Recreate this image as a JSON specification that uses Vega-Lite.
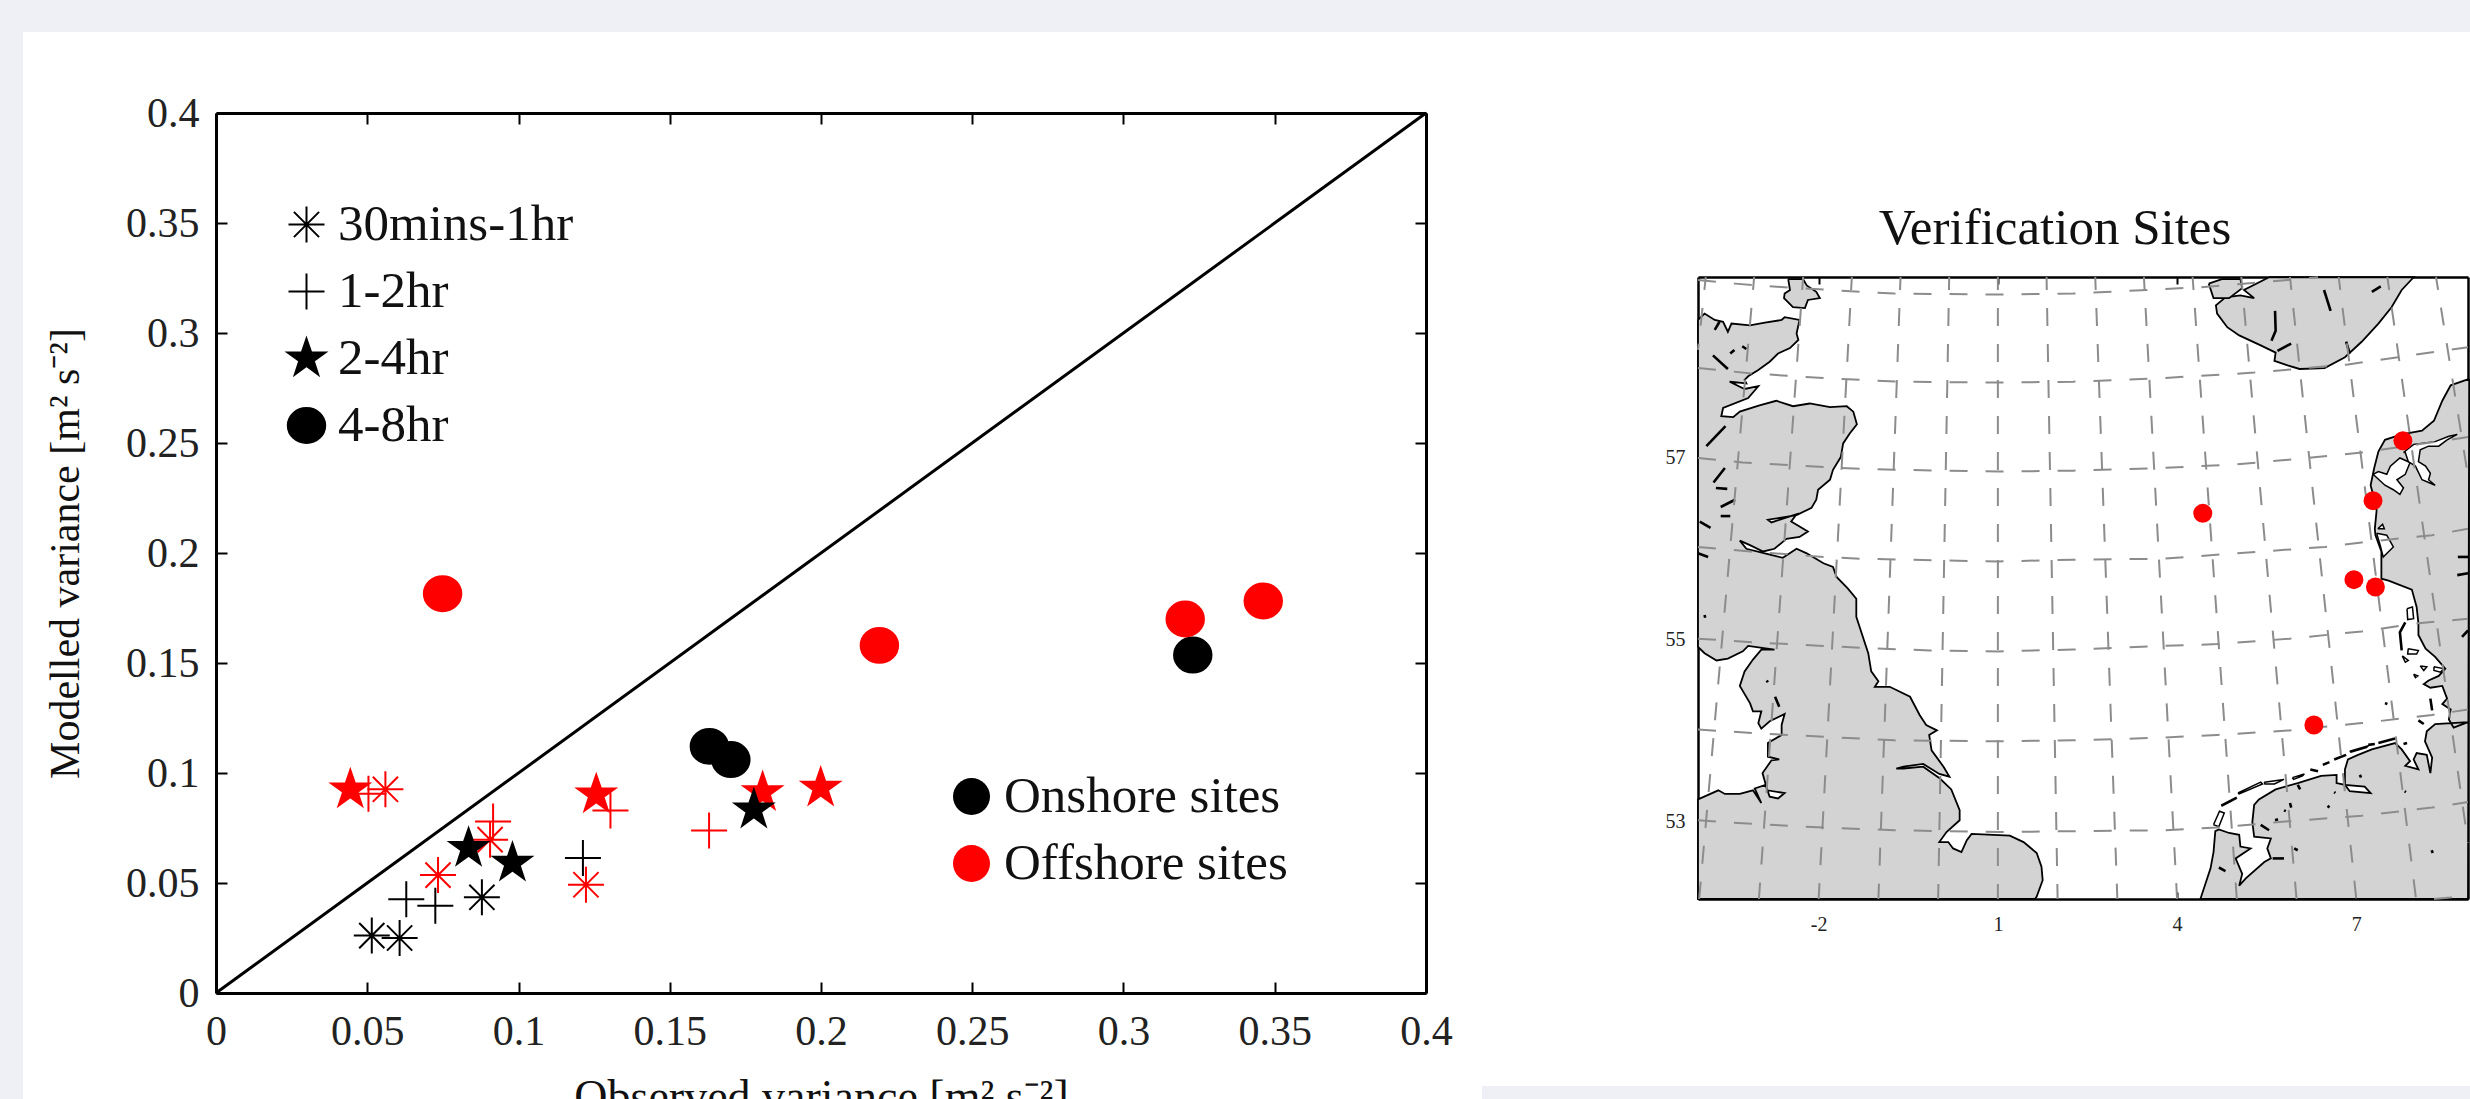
{"$schema":"https://vega.github.io/schema/vega-lite/v6.json","background":"#eff0f6","padding":{"left":23,"top":32,"right":0,"bottom":0},"spacing":0,"bounds":"flush","config":{"view":{"stroke":null},"font":"Liberation Serif","axis":{"grid":false,"domainColor":"black","tickColor":"black","labelColor":"#222222","titleColor":"#111111","labelFont":"Liberation Serif","titleFont":"Liberation Serif","titleFontWeight":"normal","labelOverlap":false,"labelFlush":false},"legend":{"labelFont":"Liberation Serif","labelColor":"#111111","padding":0,"labelLimit":600}},
"datasets":{
"scatter":[
{"obs":0.0734,"mod":0.0536,"duration":"30mins-1hr","site":"Offshore sites"},{"obs":0.0906,"mod":0.0697,"duration":"30mins-1hr","site":"Offshore sites"},{"obs":0.1223,"mod":0.0492,"duration":"30mins-1hr","site":"Offshore sites"},{"obs":0.056,"mod":0.0926,"duration":"30mins-1hr","site":"Offshore sites"},
{"obs":0.0504,"mod":0.0906,"duration":"1-2hr","site":"Offshore sites"},{"obs":0.0916,"mod":0.078,"duration":"1-2hr","site":"Offshore sites"},{"obs":0.1304,"mod":0.083,"duration":"1-2hr","site":"Offshore sites"},{"obs":0.163,"mod":0.0739,"duration":"1-2hr","site":"Offshore sites"},
{"obs":0.0444,"mod":0.0924,"duration":"2-4hr","site":"Offshore sites"},{"obs":0.1257,"mod":0.0902,"duration":"2-4hr","site":"Offshore sites"},{"obs":0.1807,"mod":0.0912,"duration":"2-4hr","site":"Offshore sites"},{"obs":0.1999,"mod":0.0932,"duration":"2-4hr","site":"Offshore sites"},
{"obs":0.0515,"mod":0.0261,"duration":"30mins-1hr","site":"Onshore sites"},{"obs":0.0607,"mod":0.025,"duration":"30mins-1hr","site":"Onshore sites"},{"obs":0.0879,"mod":0.0435,"duration":"30mins-1hr","site":"Onshore sites"},
{"obs":0.0629,"mod":0.0426,"duration":"1-2hr","site":"Onshore sites"},{"obs":0.0725,"mod":0.0397,"duration":"1-2hr","site":"Onshore sites"},{"obs":0.1213,"mod":0.0614,"duration":"1-2hr","site":"Onshore sites"},
{"obs":0.0835,"mod":0.0659,"duration":"2-4hr","site":"Onshore sites"},{"obs":0.098,"mod":0.0591,"duration":"2-4hr","site":"Onshore sites"},{"obs":0.1778,"mod":0.0833,"duration":"2-4hr","site":"Onshore sites"},
{"obs":0.1631,"mod":0.1121,"duration":"4-8hr","site":"Onshore sites"},{"obs":0.1702,"mod":0.1061,"duration":"4-8hr","site":"Onshore sites"},{"obs":0.3229,"mod":0.1536,"duration":"4-8hr","site":"Onshore sites"},
{"obs":0.0749,"mod":0.1815,"duration":"4-8hr","site":"Offshore sites"},{"obs":0.2193,"mod":0.158,"duration":"4-8hr","site":"Offshore sites"},{"obs":0.3204,"mod":0.17,"duration":"4-8hr","site":"Offshore sites"},{"obs":0.3462,"mod":0.1782,"duration":"4-8hr","site":"Offshore sites"}],
"diagonal":[{"obs":0,"mod":0},{"obs":0.4,"mod":0.4}],
"sites":[{"lon":4.43,"lat":56.39},{"lon":7.78,"lat":57.19},{"lon":7.28,"lat":56.53},{"lon":6.96,"lat":55.66},{"lon":7.32,"lat":55.58},{"lon":6.29,"lat":54.06}],
"land":[
{"p":"GB","lon":-4.02,"lat":58.52},{"p":"GB","lon":-3.91,"lat":58.59},{"p":"GB","lon":-3.74,"lat":58.52},{"p":"GB","lon":-3.6,"lat":58.5},{"p":"GB","lon":-3.52,"lat":58.39},{"p":"GB","lon":-3.46,"lat":58.48},{"p":"GB","lon":-3.15,"lat":58.46},{"p":"GB","lon":-2.9,"lat":58.49},{"p":"GB","lon":-2.62,"lat":58.52},{"p":"GB","lon":-2.57,"lat":58.55},{"p":"GB","lon":-2.32,"lat":58.52},{"p":"GB","lon":-2.37,"lat":58.37},{"p":"GB","lon":-2.34,"lat":58.3},{"p":"GB","lon":-2.48,"lat":58.21},{"p":"GB","lon":-2.68,"lat":58.15},{"p":"GB","lon":-2.82,"lat":58.06},{"p":"GB","lon":-3.01,"lat":57.97},{"p":"GB","lon":-3.18,"lat":57.9},{"p":"GB","lon":-3.24,"lat":57.86},{"p":"GB","lon":-3.21,"lat":57.82},{"p":"GB","lon":-3.49,"lat":57.84},{"p":"GB","lon":-3.24,"lat":57.76},{"p":"GB","lon":-3.01,"lat":57.79},{"p":"GB","lon":-3.18,"lat":57.66},{"p":"GB","lon":-3.6,"lat":57.55},{"p":"GB","lon":-3.63,"lat":57.46},{"p":"GB","lon":-3.43,"lat":57.45},{"p":"GB","lon":-3.32,"lat":57.51},{"p":"GB","lon":-2.99,"lat":57.58},{"p":"GB","lon":-2.71,"lat":57.63},{"p":"GB","lon":-2.43,"lat":57.57},{"p":"GB","lon":-2.15,"lat":57.6},{"p":"GB","lon":-1.81,"lat":57.56},{"p":"GB","lon":-1.53,"lat":57.57},{"p":"GB","lon":-1.42,"lat":57.51},{"p":"GB","lon":-1.36,"lat":57.37},{"p":"GB","lon":-1.48,"lat":57.27},{"p":"GB","lon":-1.59,"lat":57.16},{"p":"GB","lon":-1.63,"lat":57.01},{"p":"GB","lon":-1.76,"lat":56.87},{"p":"GB","lon":-1.81,"lat":56.76},{"p":"GB","lon":-2.01,"lat":56.65},{"p":"GB","lon":-2.04,"lat":56.54},{"p":"GB","lon":-2.12,"lat":56.45},{"p":"GB","lon":-2.37,"lat":56.37},{"p":"GB","lon":-2.65,"lat":56.34},{"p":"GB","lon":-2.85,"lat":56.32},{"p":"GB","lon":-2.79,"lat":56.29},{"p":"GB","lon":-2.37,"lat":56.38},{"p":"GB","lon":-2.46,"lat":56.3},{"p":"GB","lon":-2.18,"lat":56.19},{"p":"GB","lon":-2.32,"lat":56.13},{"p":"GB","lon":-2.54,"lat":56.11},{"p":"GB","lon":-2.74,"lat":56},{"p":"GB","lon":-2.93,"lat":55.97},{"p":"GB","lon":-3.15,"lat":56.04},{"p":"GB","lon":-3.32,"lat":56.09},{"p":"GB","lon":-3.21,"lat":56},{"p":"GB","lon":-2.85,"lat":55.94},{"p":"GB","lon":-2.6,"lat":55.9},{"p":"GB","lon":-2.37,"lat":56},{"p":"GB","lon":-2.2,"lat":55.95},{"p":"GB","lon":-1.92,"lat":55.84},{"p":"GB","lon":-1.76,"lat":55.8},{"p":"GB","lon":-1.7,"lat":55.69},{"p":"GB","lon":-1.51,"lat":55.56},{"p":"GB","lon":-1.37,"lat":55.45},{"p":"GB","lon":-1.37,"lat":55.25},{"p":"GB","lon":-1.28,"lat":55.07},{"p":"GB","lon":-1.17,"lat":54.85},{"p":"GB","lon":-1.12,"lat":54.65},{"p":"GB","lon":-1,"lat":54.54},{"p":"GB","lon":-1.06,"lat":54.48},{"p":"GB","lon":-0.81,"lat":54.48},{"p":"GB","lon":-0.47,"lat":54.37},{"p":"GB","lon":-0.31,"lat":54.17},{"p":"GB","lon":-0.2,"lat":54.06},{"p":"GB","lon":-0.02,"lat":54},{"p":"GB","lon":-0.15,"lat":53.95},{"p":"GB","lon":-0.11,"lat":53.78},{"p":"GB","lon":0.09,"lat":53.6},{"p":"GB","lon":0.19,"lat":53.49},{"p":"GB","lon":0.02,"lat":53.52},{"p":"GB","lon":-0.25,"lat":53.63},{"p":"GB","lon":-0.58,"lat":53.6},{"p":"GB","lon":-0.7,"lat":53.58},{"p":"GB","lon":-0.58,"lat":53.58},{"p":"GB","lon":-0.25,"lat":53.6},{"p":"GB","lon":0.03,"lat":53.47},{"p":"GB","lon":0.22,"lat":53.35},{"p":"GB","lon":0.36,"lat":53.12},{"p":"GB","lon":0.36,"lat":53.01},{"p":"GB","lon":0.14,"lat":52.88},{"p":"GB","lon":0.02,"lat":52.77},{"p":"GB","lon":0.17,"lat":52.77},{"p":"GB","lon":0.25,"lat":52.7},{"p":"GB","lon":0.39,"lat":52.66},{"p":"GB","lon":0.48,"lat":52.79},{"p":"GB","lon":0.56,"lat":52.86},{"p":"GB","lon":1.2,"lat":52.84},{"p":"GB","lon":1.43,"lat":52.77},{"p":"GB","lon":1.65,"lat":52.65},{"p":"GB","lon":1.73,"lat":52.5},{"p":"GB","lon":1.75,"lat":52.35},{"p":"GB","lon":1.65,"lat":52.17},{"p":"GB","lon":1.62,"lat":52.143},{"p":"GB","lon":-4.02,"lat":52.143},{"p":"GB","lon":-4.02,"lat":53.24},{"p":"GB","lon":-3.68,"lat":53.34},{"p":"GB","lon":-3.57,"lat":53.3},{"p":"GB","lon":-3.32,"lat":53.3},{"p":"GB","lon":-3.1,"lat":53.34},{"p":"GB","lon":-2.96,"lat":53.2},{"p":"GB","lon":-3.07,"lat":53.36},{"p":"GB","lon":-2.89,"lat":53.4},{"p":"GB","lon":-2.82,"lat":53.27},{"p":"GB","lon":-2.68,"lat":53.25},{"p":"GB","lon":-2.57,"lat":53.31},{"p":"GB","lon":-2.86,"lat":53.34},{"p":"GB","lon":-2.94,"lat":53.53},{"p":"GB","lon":-2.79,"lat":53.67},{"p":"GB","lon":-2.66,"lat":53.68},{"p":"GB","lon":-2.85,"lat":53.71},{"p":"GB","lon":-2.85,"lat":53.86},{"p":"GB","lon":-2.62,"lat":53.95},{"p":"GB","lon":-2.62,"lat":54.06},{"p":"GB","lon":-2.57,"lat":54.18},{"p":"GB","lon":-2.82,"lat":54.1},{"p":"GB","lon":-2.96,"lat":54.02},{"p":"GB","lon":-3.01,"lat":54.08},{"p":"GB","lon":-2.96,"lat":54.21},{"p":"GB","lon":-3.1,"lat":54.21},{"p":"GB","lon":-3.15,"lat":54.3},{"p":"GB","lon":-3.32,"lat":54.49},{"p":"GB","lon":-3.24,"lat":54.65},{"p":"GB","lon":-3.1,"lat":54.78},{"p":"GB","lon":-2.96,"lat":54.89},{"p":"GB","lon":-2.74,"lat":54.89},{"p":"GB","lon":-3.18,"lat":54.93},{"p":"GB","lon":-3.27,"lat":54.87},{"p":"GB","lon":-3.52,"lat":54.79},{"p":"GB","lon":-3.71,"lat":54.77},{"p":"GB","lon":-3.91,"lat":54.85},{"p":"GB","lon":-4.02,"lat":54.92},{"p":"GB","lon":-4.02,"lat":58.52},
{"p":"Orkney","lon":-2.51,"lat":58.97},{"p":"Orkney","lon":-2.26,"lat":58.97},{"p":"Orkney","lon":-2.2,"lat":58.9},{"p":"Orkney","lon":-2.04,"lat":58.83},{"p":"Orkney","lon":-1.98,"lat":58.76},{"p":"Orkney","lon":-2.18,"lat":58.74},{"p":"Orkney","lon":-2.23,"lat":58.65},{"p":"Orkney","lon":-2.43,"lat":58.66},{"p":"Orkney","lon":-2.58,"lat":58.76},{"p":"Orkney","lon":-2.57,"lat":58.81},{"p":"Orkney","lon":-2.48,"lat":58.85},{"p":"Orkney","lon":-2.51,"lat":58.97},
{"p":"Norway","lon":5.54,"lat":58.99},{"p":"Norway","lon":7.96,"lat":58.99},{"p":"Norway","lon":7.76,"lat":58.85},{"p":"Norway","lon":7.59,"lat":58.66},{"p":"Norway","lon":7.37,"lat":58.48},{"p":"Norway","lon":7.09,"lat":58.28},{"p":"Norway","lon":6.81,"lat":58.11},{"p":"Norway","lon":6.47,"lat":57.99},{"p":"Norway","lon":6.05,"lat":57.98},{"p":"Norway","lon":5.85,"lat":58.02},{"p":"Norway","lon":5.63,"lat":58.07},{"p":"Norway","lon":5.65,"lat":58.16},{"p":"Norway","lon":5.4,"lat":58.24},{"p":"Norway","lon":5.04,"lat":58.35},{"p":"Norway","lon":4.84,"lat":58.44},{"p":"Norway","lon":4.67,"lat":58.59},{"p":"Norway","lon":4.65,"lat":58.68},{"p":"Norway","lon":4.81,"lat":58.77},{"p":"Norway","lon":5.06,"lat":58.79},{"p":"Norway","lon":5.29,"lat":58.76},{"p":"Norway","lon":5.12,"lat":58.85},{"p":"Norway","lon":5.54,"lat":58.99},
{"p":"NorIs","lon":4.53,"lat":58.92},{"p":"NorIs","lon":4.75,"lat":58.97},{"p":"NorIs","lon":5.06,"lat":58.97},{"p":"NorIs","lon":5.09,"lat":58.87},{"p":"NorIs","lon":4.87,"lat":58.76},{"p":"NorIs","lon":4.61,"lat":58.76},{"p":"NorIs","lon":4.53,"lat":58.92},
{"p":"East","lon":8.89,"lat":57.87},{"p":"East","lon":8.58,"lat":57.8},{"p":"East","lon":8.44,"lat":57.63},{"p":"East","lon":8.3,"lat":57.41},{"p":"East","lon":8.1,"lat":57.3},{"p":"East","lon":7.76,"lat":57.26},{"p":"East","lon":7.48,"lat":57.2},{"p":"East","lon":7.37,"lat":57.07},{"p":"East","lon":7.3,"lat":56.89},{"p":"East","lon":7.24,"lat":56.7},{"p":"East","lon":7.31,"lat":56.52},{"p":"East","lon":7.34,"lat":56.42},{"p":"East","lon":7.31,"lat":56.22},{"p":"East","lon":7.32,"lat":56.15},{"p":"East","lon":7.42,"lat":55.97},{"p":"East","lon":7.42,"lat":55.67},{"p":"East","lon":7.54,"lat":55.65},{"p":"East","lon":7.93,"lat":55.55},{"p":"East","lon":8.01,"lat":55.36},{"p":"East","lon":8.04,"lat":55.18},{"p":"East","lon":8.04,"lat":55.05},{"p":"East","lon":8.16,"lat":54.9},{"p":"East","lon":8.32,"lat":54.81},{"p":"East","lon":8.49,"lat":54.68},{"p":"East","lon":8.38,"lat":54.6},{"p":"East","lon":8.21,"lat":54.55},{"p":"East","lon":8.13,"lat":54.51},{"p":"East","lon":8.24,"lat":54.47},{"p":"East","lon":8.44,"lat":54.49},{"p":"East","lon":8.52,"lat":54.35},{"p":"East","lon":8.44,"lat":54.29},{"p":"East","lon":8.58,"lat":54.23},{"p":"East","lon":8.55,"lat":54.12},{"p":"East","lon":8.63,"lat":54.03},{"p":"East","lon":8.87,"lat":54.09},{"p":"East","lon":8.32,"lat":54.07},{"p":"East","lon":8.18,"lat":53.99},{"p":"East","lon":8.15,"lat":53.88},{"p":"East","lon":8.27,"lat":53.7},{"p":"East","lon":8.24,"lat":53.53},{"p":"East","lon":8.18,"lat":53.73},{"p":"East","lon":8.01,"lat":53.75},{"p":"East","lon":7.96,"lat":53.68},{"p":"East","lon":8.04,"lat":53.57},{"p":"East","lon":7.82,"lat":53.61},{"p":"East","lon":7.9,"lat":53.66},{"p":"East","lon":7.76,"lat":53.79},{"p":"East","lon":7.65,"lat":53.86},{"p":"East","lon":7.26,"lat":53.79},{"p":"East","lon":7.03,"lat":53.73},{"p":"East","lon":6.86,"lat":53.68},{"p":"East","lon":6.81,"lat":53.57},{"p":"East","lon":6.81,"lat":53.4},{"p":"East","lon":7.14,"lat":53.38},{"p":"East","lon":7.24,"lat":53.31},{"p":"East","lon":6.89,"lat":53.33},{"p":"East","lon":6.81,"lat":53.4},{"p":"East","lon":6.67,"lat":53.42},{"p":"East","lon":6.67,"lat":53.51},{"p":"East","lon":6.41,"lat":53.5},{"p":"East","lon":6.02,"lat":53.42},{"p":"East","lon":5.65,"lat":53.35},{"p":"East","lon":5.37,"lat":53.24},{"p":"East","lon":5.29,"lat":53.18},{"p":"East","lon":5.26,"lat":52.99},{"p":"East","lon":5.29,"lat":52.83},{"p":"East","lon":5.57,"lat":52.81},{"p":"East","lon":5.51,"lat":52.7},{"p":"East","lon":5.57,"lat":52.59},{"p":"East","lon":5.46,"lat":52.55},{"p":"East","lon":5.15,"lat":52.37},{"p":"East","lon":5.04,"lat":52.29},{"p":"East","lon":5.09,"lat":52.42},{"p":"East","lon":4.98,"lat":52.59},{"p":"East","lon":5.23,"lat":52.7},{"p":"East","lon":5.06,"lat":52.72},{"p":"East","lon":5.04,"lat":52.85},{"p":"East","lon":4.87,"lat":52.87},{"p":"East","lon":4.7,"lat":52.91},{"p":"East","lon":4.64,"lat":52.89},{"p":"East","lon":4.61,"lat":52.66},{"p":"East","lon":4.56,"lat":52.48},{"p":"East","lon":4.39,"lat":52.143},{"p":"East","lon":8.87,"lat":52.143},{"p":"East","lon":8.89,"lat":57.87}],
"holes":[
{"p":"L1","lon":7.28,"lat":56.82},{"p":"L1","lon":7.48,"lat":56.7},{"p":"L1","lon":7.62,"lat":56.65},{"p":"L1","lon":7.73,"lat":56.6},{"p":"L1","lon":7.79,"lat":56.67},{"p":"L1","lon":7.68,"lat":56.76},{"p":"L1","lon":7.82,"lat":56.82},{"p":"L1","lon":7.9,"lat":56.95},{"p":"L1","lon":7.73,"lat":57},{"p":"L1","lon":7.57,"lat":56.91},{"p":"L1","lon":7.51,"lat":56.82},{"p":"L1","lon":7.37,"lat":56.85},{"p":"L1","lon":7.28,"lat":56.82},
{"p":"L2","lon":7.79,"lat":57.06},{"p":"L2","lon":7.96,"lat":57.15},{"p":"L2","lon":8.32,"lat":57.18},{"p":"L2","lon":8.55,"lat":57.24},{"p":"L2","lon":8.69,"lat":57.26},{"p":"L2","lon":8.52,"lat":57.2},{"p":"L2","lon":8.38,"lat":57.13},{"p":"L2","lon":8.21,"lat":57.13},{"p":"L2","lon":8.07,"lat":57.09},{"p":"L2","lon":8.04,"lat":56.96},{"p":"L2","lon":8.16,"lat":56.91},{"p":"L2","lon":8.24,"lat":56.83},{"p":"L2","lon":8.21,"lat":56.76},{"p":"L2","lon":8.32,"lat":56.7},{"p":"L2","lon":8.1,"lat":56.76},{"p":"L2","lon":7.99,"lat":56.91},{"p":"L2","lon":7.87,"lat":56.96},{"p":"L2","lon":7.82,"lat":57.06},{"p":"L2","lon":7.79,"lat":57.06},
{"p":"R","lon":7.34,"lat":56.17},{"p":"R","lon":7.51,"lat":56.15},{"p":"R","lon":7.62,"lat":56.02},{"p":"R","lon":7.45,"lat":55.91},{"p":"R","lon":7.4,"lat":56.04},{"p":"R","lon":7.34,"lat":56.17},
{"p":"R2","lon":7.36,"lat":56.22},{"p":"R2","lon":7.44,"lat":56.27},{"p":"R2","lon":7.47,"lat":56.22},{"p":"R2","lon":7.36,"lat":56.22},
{"p":"I1","lon":7.85,"lat":55.34},{"p":"I1","lon":7.94,"lat":55.36},{"p":"I1","lon":7.96,"lat":55.23},{"p":"I1","lon":7.86,"lat":55.22},{"p":"I1","lon":7.85,"lat":55.34},
{"p":"I3","lon":7.87,"lat":54.9},{"p":"I3","lon":8.04,"lat":54.88},{"p":"I3","lon":8.01,"lat":54.84},{"p":"I3","lon":7.86,"lat":54.84},{"p":"I3","lon":7.87,"lat":54.9},
{"p":"I4","lon":7.77,"lat":54.82},{"p":"I4","lon":7.87,"lat":54.77},{"p":"I4","lon":7.82,"lat":54.75},{"p":"I4","lon":7.77,"lat":54.82},
{"p":"I5","lon":8.3,"lat":54.7},{"p":"I5","lon":8.46,"lat":54.68},{"p":"I5","lon":8.41,"lat":54.64},{"p":"I5","lon":8.3,"lat":54.66},{"p":"I5","lon":8.3,"lat":54.7},
{"p":"I6","lon":8.07,"lat":54.71},{"p":"I6","lon":8.18,"lat":54.7},{"p":"I6","lon":8.13,"lat":54.66},{"p":"I6","lon":8.07,"lat":54.71},
{"p":"I7","lon":7.96,"lat":54.62},{"p":"I7","lon":8.03,"lat":54.6},{"p":"I7","lon":7.99,"lat":54.58},{"p":"I7","lon":7.96,"lat":54.62},
{"p":"F2","lon":5.02,"lat":53.31},{"p":"F2","lon":5.4,"lat":53.43},{"p":"F2","lon":5.43,"lat":53.41},{"p":"F2","lon":5.04,"lat":53.3},{"p":"F2","lon":5.02,"lat":53.31},
{"p":"F3","lon":5.46,"lat":53.43},{"p":"F3","lon":5.79,"lat":53.46},{"p":"F3","lon":5.63,"lat":53.41},{"p":"F3","lon":5.47,"lat":53.41},{"p":"F3","lon":5.46,"lat":53.43},
{"p":"F4","lon":5.93,"lat":53.48},{"p":"F4","lon":6.13,"lat":53.52},{"p":"F4","lon":6.1,"lat":53.5},{"p":"F4","lon":5.95,"lat":53.46},{"p":"F4","lon":5.93,"lat":53.48},
{"p":"F8","lon":6.89,"lat":53.77},{"p":"F8","lon":7.2,"lat":53.83},{"p":"F8","lon":7.17,"lat":53.81},{"p":"F8","lon":6.91,"lat":53.76},{"p":"F8","lon":6.89,"lat":53.77},
{"p":"Texel","lon":4.61,"lat":52.96},{"p":"Texel","lon":4.71,"lat":53.11},{"p":"Texel","lon":4.79,"lat":53.09},{"p":"Texel","lon":4.7,"lat":52.94},{"p":"Texel","lon":4.61,"lat":52.96}],
"strokes":[
{"p":"a","lon":-3.77,"lat":58.13},{"p":"a","lon":-3.52,"lat":57.98},{"p":"b","lon":-3.88,"lat":57.13},{"p":"b","lon":-3.56,"lat":57.35},{"p":"c","lon":-3.76,"lat":56.73},{"p":"c","lon":-3.57,"lat":56.89},{"p":"d","lon":-3.72,"lat":56.67},{"p":"d","lon":-3.53,"lat":56.66},{"p":"e","lon":-3.64,"lat":56.46},{"p":"e","lon":-3.4,"lat":56.54},{"p":"f","lon":-3.64,"lat":56.36},{"p":"f","lon":-3.48,"lat":56.36},{"p":"g","lon":-3.48,"lat":58.15},{"p":"g","lon":-3.41,"lat":58.19},{"p":"h","lon":-3.28,"lat":58.23},{"p":"h","lon":-3.21,"lat":58.2},{"p":"i","lon":-3.99,"lat":56.3},{"p":"i","lon":-3.81,"lat":56.23},{"p":"j","lon":-4.02,"lat":55.95},{"p":"j","lon":-3.85,"lat":55.91},{"p":"k","lon":-3.74,"lat":58.41},{"p":"k","lon":-3.66,"lat":58.5},{"p":"l","lon":-2.73,"lat":54.37},{"p":"l","lon":-2.66,"lat":54.26},{"p":"m","lon":-2.87,"lat":54.55},{"p":"m","lon":-2.85,"lat":54.53},{"p":"n","lon":-3.91,"lat":55.27},{"p":"n","lon":-3.9,"lat":55.24},
{"p":"o","lon":5.64,"lat":58.62},{"p":"o","lon":5.65,"lat":58.4},{"p":"o","lon":5.58,"lat":58.29},{"p":"q","lon":6.46,"lat":58.85},{"p":"q","lon":6.57,"lat":58.62},{"p":"r","lon":7.26,"lat":58.83},{"p":"r","lon":7.41,"lat":58.89},{"p":"s","lon":6.83,"lat":58.28},{"p":"s","lon":6.89,"lat":58.15},{"p":"t","lon":5.68,"lat":58.18},{"p":"t","lon":5.91,"lat":58.26},
{"p":"I2","lon":7.82,"lat":55.19},{"p":"I2","lon":7.73,"lat":55.08},{"p":"I2","lon":7.76,"lat":54.88},{"p":"I9","lon":8.24,"lat":54.35},{"p":"I9","lon":8.27,"lat":54.22},{"p":"u","lon":7.48,"lat":54.3},{"p":"u","lon":7.52,"lat":54.29},{"p":"v","lon":8.04,"lat":54.11},{"p":"v","lon":8.13,"lat":54.07},{"p":"w","lon":7.85,"lat":53.86},{"p":"w","lon":7.79,"lat":53.85},
{"p":"F1","lon":4.74,"lat":53.17},{"p":"F1","lon":5,"lat":53.26},{"p":"F5","lon":6.23,"lat":53.57},{"p":"F5","lon":6.36,"lat":53.55},{"p":"F6","lon":6.44,"lat":53.62},{"p":"F6","lon":6.55,"lat":53.65},{"p":"F7","lon":6.63,"lat":53.68},{"p":"F7","lon":6.83,"lat":53.73},{"p":"F9","lon":7.2,"lat":53.84},{"p":"F9","lon":7.31,"lat":53.85},{"p":"F10","lon":7.37,"lat":53.86},{"p":"F10","lon":7.65,"lat":53.91},
{"p":"x1","lon":5.4,"lat":52.96},{"p":"x1","lon":5.54,"lat":52.9},{"p":"x2","lon":5.64,"lat":53.01},{"p":"x2","lon":5.69,"lat":53.02},{"p":"x3","lon":5.79,"lat":53.12},{"p":"x3","lon":5.82,"lat":53.11},{"p":"x4","lon":5.89,"lat":53.2},{"p":"x4","lon":5.91,"lat":53.15},{"p":"x5","lon":6.52,"lat":53.17},{"p":"x5","lon":6.55,"lat":53.15},{"p":"x6","lon":7.06,"lat":53.51},{"p":"x6","lon":7.08,"lat":53.48},{"p":"x7","lon":6.63,"lat":53.32},{"p":"x7","lon":6.65,"lat":53.31},{"p":"x8","lon":7.81,"lat":53.33},{"p":"x8","lon":7.83,"lat":53.32},{"p":"x9","lon":5.96,"lat":52.7},{"p":"x9","lon":6.02,"lat":52.68},{"p":"x10","lon":8.26,"lat":52.68},{"p":"x10","lon":8.28,"lat":52.65},{"p":"x11","lon":4.7,"lat":52.49},{"p":"x11","lon":4.81,"lat":52.45},{"p":"x12","lon":6.02,"lat":53.4},{"p":"x12","lon":6.06,"lat":53.35},{"p":"x13","lon":5.79,"lat":52.59},{"p":"x13","lon":5.6,"lat":52.59},
{"p":"y1","lon":8.7,"lat":55.91},{"p":"y1","lon":8.87,"lat":55.91},{"p":"y2","lon":8.69,"lat":55.71},{"p":"y2","lon":8.87,"lat":55.73},{"p":"y3","lon":8.77,"lat":55.03},{"p":"y3","lon":8.87,"lat":55.1}],
"graticule":[
{"g":"p59","lon":-4.02,"lat":58.96},{"g":"p59","lon":-3.4,"lat":58.92},{"g":"p59","lon":-2.82,"lat":58.89},{"g":"p59","lon":-1.31,"lat":58.83},{"g":"p59","lon":-0.73,"lat":58.81},{"g":"p59","lon":1,"lat":58.8},{"g":"p59","lon":2.26,"lat":58.81},{"g":"p59","lon":3.77,"lat":58.86},{"g":"p59","lon":4.39,"lat":58.88},{"g":"p59","lon":5.85,"lat":58.96},{"g":"p59","lon":6.36,"lat":58.99},
{"g":"p58","lon":-4.02,"lat":57.99},{"g":"p58","lon":-3.1,"lat":57.93},{"g":"p58","lon":-1.92,"lat":57.88},{"g":"p58","lon":-0.67,"lat":57.84},{"g":"p58","lon":1,"lat":57.83},{"g":"p58","lon":2.26,"lat":57.84},{"g":"p58","lon":3.77,"lat":57.88},{"g":"p58","lon":5.29,"lat":57.94},{"g":"p58","lon":6.86,"lat":58.03},{"g":"p58","lon":7.7,"lat":58.11},{"g":"p58","lon":8.87,"lat":58.22},
{"g":"p57","lon":-4.02,"lat":57},{"g":"p57","lon":-3.27,"lat":56.95},{"g":"p57","lon":-1.92,"lat":56.9},{"g":"p57","lon":-1.31,"lat":56.88},{"g":"p57","lon":-0.73,"lat":56.87},{"g":"p57","lon":1,"lat":56.85},{"g":"p57","lon":2.26,"lat":56.86},{"g":"p57","lon":3.77,"lat":56.89},{"g":"p57","lon":5,"lat":56.93},{"g":"p57","lon":6.19,"lat":57},{"g":"p57","lon":7.09,"lat":57.06},{"g":"p57","lon":8.04,"lat":57.15},{"g":"p57","lon":8.87,"lat":57.23},
{"g":"p56","lon":-4.02,"lat":56.02},{"g":"p56","lon":-3.15,"lat":55.97},{"g":"p56","lon":-1.92,"lat":55.91},{"g":"p56","lon":-1.31,"lat":55.89},{"g":"p56","lon":1,"lat":55.86},{"g":"p56","lon":2.26,"lat":55.88},{"g":"p56","lon":3.77,"lat":55.89},{"g":"p56","lon":5,"lat":55.95},{"g":"p56","lon":6.47,"lat":56.02},{"g":"p56","lon":7.09,"lat":56.07},{"g":"p56","lon":8.27,"lat":56.15},{"g":"p56","lon":8.87,"lat":56.22},
{"g":"p55","lon":-4.02,"lat":55.01},{"g":"p55","lon":-3.1,"lat":54.97},{"g":"p55","lon":-1.92,"lat":54.93},{"g":"p55","lon":-1.31,"lat":54.91},{"g":"p55","lon":-0.14,"lat":54.88},{"g":"p55","lon":1,"lat":54.87},{"g":"p55","lon":2.26,"lat":54.89},{"g":"p55","lon":3.77,"lat":54.93},{"g":"p55","lon":4.67,"lat":54.95},{"g":"p55","lon":5.88,"lat":55.01},{"g":"p55","lon":7.09,"lat":55.09},{"g":"p55","lon":8.04,"lat":55.18},{"g":"p55","lon":8.87,"lat":55.23},
{"g":"p54","lon":-4.02,"lat":54.01},{"g":"p54","lon":-3.1,"lat":53.97},{"g":"p54","lon":-1.92,"lat":53.93},{"g":"p54","lon":-0.73,"lat":53.89},{"g":"p54","lon":1,"lat":53.88},{"g":"p54","lon":2.26,"lat":53.89},{"g":"p54","lon":3.77,"lat":53.92},{"g":"p54","lon":4.67,"lat":53.95},{"g":"p54","lon":5.88,"lat":54},{"g":"p54","lon":7.09,"lat":54.08},{"g":"p54","lon":8.27,"lat":54.17},{"g":"p54","lon":8.87,"lat":54.23},
{"g":"p53","lon":-4.02,"lat":53.01},{"g":"p53","lon":-3.1,"lat":52.97},{"g":"p53","lon":-1.92,"lat":52.93},{"g":"p53","lon":-0.73,"lat":52.9},{"g":"p53","lon":1,"lat":52.88},{"g":"p53","lon":2.26,"lat":52.89},{"g":"p53","lon":3.77,"lat":52.9},{"g":"p53","lon":4.67,"lat":52.93},{"g":"p53","lon":5.88,"lat":53},{"g":"p53","lon":7.09,"lat":53.06},{"g":"p53","lon":8.27,"lat":53.15},{"g":"p53","lon":8.87,"lat":53.21},
{"g":"p52","lon":8.3,"lat":52.143},{"g":"p52","lon":8.58,"lat":52.16},{"g":"p52","lon":8.87,"lat":52.19}],
"meridians":[
{"g":"m-5","lon":-3.89,"lat":58.993},{"g":"m-5","lon":-4.02,"lat":58.19},{"g":"m-4","lon":-3.08,"lat":58.993},{"g":"m-4","lon":-4,"lat":52.143},{"g":"m-3","lon":-2.26,"lat":58.993},{"g":"m-3","lon":-3,"lat":52.143},{"g":"m-2","lon":-1.445,"lat":58.993},{"g":"m-2","lon":-2,"lat":52.143},{"g":"m-1","lon":-0.63,"lat":58.993},{"g":"m-1","lon":-1,"lat":52.143},{"g":"m0","lon":0.185,"lat":58.993},{"g":"m0","lon":0,"lat":52.143},{"g":"m1","lon":1,"lat":58.993},{"g":"m1","lon":1,"lat":52.143},{"g":"m2","lon":1.815,"lat":58.993},{"g":"m2","lon":2,"lat":52.143},{"g":"m3","lon":2.63,"lat":58.993},{"g":"m3","lon":3,"lat":52.143},{"g":"m4","lon":3.445,"lat":58.993},{"g":"m4","lon":4,"lat":52.143},{"g":"m5","lon":4.26,"lat":58.993},{"g":"m5","lon":5,"lat":52.143},{"g":"m6","lon":5.075,"lat":58.993},{"g":"m6","lon":6,"lat":52.143},{"g":"m7","lon":5.89,"lat":58.993},{"g":"m7","lon":7,"lat":52.143},{"g":"m8","lon":6.705,"lat":58.993},{"g":"m8","lon":8,"lat":52.143},{"g":"m9","lon":7.52,"lat":58.993},{"g":"m9","lon":8.87,"lat":52.76},{"g":"m10","lon":8.335,"lat":58.993},{"g":"m10","lon":8.87,"lat":56.8}]
},
"hconcat":[
{"width":1459,"height":1067,"view":{"fill":"white","stroke":null},
"layer":[
{"data":{"name":"scatter"},"mark":{"type":"point","opacity":1,"strokeWidth":2,"filled":true},
"encoding":{
"x":{"field":"obs","type":"quantitative","scale":{"domain":[0,0.4],"range":[193,1403],"nice":false,"zero":false},"axis":{"orient":"bottom","offset":-106,"values":[0,0.05,0.1,0.15,0.2,0.25,0.3,0.35,0.4],"format":"~g","tickSize":-11,"tickWidth":2,"domainWidth":3,"labelFontSize":42,"labelPadding":29,"title":"Observed variance [m² s⁻²]","titleFontSize":46,"titlePadding":23}},
"y":{"field":"mod","type":"quantitative","scale":{"domain":[0,0.4],"range":[961,81],"nice":false,"zero":false},"axis":{"orient":"left","offset":-193,"values":[0,0.05,0.1,0.15,0.2,0.25,0.3,0.35,0.4],"format":"~g","tickSize":-11,"tickWidth":2,"domainWidth":3,"labelFontSize":42,"labelPadding":28,"title":"Modelled variance [m² s⁻²]","titleFontSize":42,"titlePadding":38}},
"shape":{"field":"duration","type":"nominal","scale":{"domain":["30mins-1hr","1-2hr","2-4hr","4-8hr"],"range":["M0,-1L0,1M-1,0L1,0M-.7,-.7L.7,.7M-.7,.7L.7,-.7","M-1,0L1,0M0,-1L0,1","M0,-1.1L.26,-.34L1.05,-.34L.4,.13L.65,.89L0,.42L-.65,.89L-.4,.13L-1.05,-.34L-.26,-.34Z","M-1.04,0A1.04,.97 0 1,0 1.04,0A1.04,.97 0 1,0 -1.04,0Z"]},"legend":{"orient":"none","legendX":258,"legendY":167,"title":null,"labelFontSize":51,"labelOffset":6,"rowPadding":15,"symbolSize":1296,"symbolFillColor":"black","symbolStrokeColor":"black","symbolStrokeWidth":2}},
"size":{"value":1296},
"fill":{"field":"site","type":"nominal","scale":{"domain":["Onshore sites","Offshore sites"],"range":["black","#ff0000"]},"legend":{"orient":"none","legendX":923,"legendY":739,"title":null,"labelFontSize":51,"labelOffset":7,"rowPadding":15,"symbolType":"circle","symbolSize":1369,"symbolStrokeWidth":0}},
"stroke":{"field":"site","type":"nominal","scale":{"domain":["Onshore sites","Offshore sites"],"range":["black","#ff0000"]},"legend":null}
}},
{"data":{"name":"diagonal"},"mark":{"type":"line","color":"black","strokeWidth":3},
"encoding":{
"x":{"field":"obs","type":"quantitative","scale":{"domain":[0,0.4],"range":[193,1403],"nice":false,"zero":false},"axis":{"orient":"top","offset":-81,"values":[0,0.05,0.1,0.15,0.2,0.25,0.3,0.35,0.4],"labels":false,"tickSize":-11,"tickWidth":2,"domainWidth":3,"title":null}},
"y":{"field":"mod","type":"quantitative","scale":{"domain":[0,0.4],"range":[961,81],"nice":false,"zero":false},"axis":{"orient":"right","offset":-56,"values":[0,0.05,0.1,0.15,0.2,0.25,0.3,0.35,0.4],"labels":false,"tickSize":-11,"tickWidth":2,"domainWidth":3,"title":null}}
}}
],"resolve":{"axis":{"x":"independent","y":"independent"}}},
{"width":988,"height":1054,"view":{"fill":"white","stroke":null},
"title":{"text":"Verification Sites","font":"Liberation Serif","fontSize":51,"fontWeight":"normal","color":"#111111","anchor":"middle","frame":"group","dx":79,"offset":-223},
"layer":[
{"data":{"name":"land"},"mark":{"type":"line","order":null,"fill":"#d3d3d3","stroke":"black","strokeWidth":1.8},
"encoding":{
"x":{"field":"lon","type":"quantitative","scale":{"domain":[-4.02,8.87],"range":[216,986],"nice":false,"zero":false},"axis":{"orient":"bottom","offset":-187,"values":[-2,1,4,7],"labelExpr":"toString(datum.value)","tickSize":-7,"tickWidth":2,"domainWidth":2.5,"labelFontSize":20,"labelPadding":22,"title":null}},
"y":{"field":"lat","type":"quantitative","scale":{"domain":[52.143,58.993],"range":[867,245],"nice":false,"zero":false},"axis":{"orient":"left","offset":-216,"values":[53,55,57],"format":"d","tickSize":-7,"tickWidth":2,"domainWidth":2.5,"labelFontSize":20,"labelPadding":20,"title":null}},
"detail":{"field":"p","type":"nominal"}}},
{"data":{"name":"holes"},"mark":{"type":"line","order":null,"fill":"white","stroke":"black","strokeWidth":1.5},
"encoding":{
"x":{"field":"lon","type":"quantitative","scale":{"domain":[-4.02,8.87],"range":[216,986],"nice":false,"zero":false},"axis":null},
"y":{"field":"lat","type":"quantitative","scale":{"domain":[52.143,58.993],"range":[867,245],"nice":false,"zero":false},"axis":null},
"detail":{"field":"p","type":"nominal"}}},
{"data":{"name":"strokes"},"mark":{"type":"line","order":null,"stroke":"black","strokeWidth":2.6},
"encoding":{
"x":{"field":"lon","type":"quantitative","scale":{"domain":[-4.02,8.87],"range":[216,986],"nice":false,"zero":false},"axis":null},
"y":{"field":"lat","type":"quantitative","scale":{"domain":[52.143,58.993],"range":[867,245],"nice":false,"zero":false},"axis":null},
"detail":{"field":"p","type":"nominal"}}},
{"data":{"name":"graticule"},"mark":{"type":"line","order":null,"stroke":"#8c8c8c","strokeWidth":2,"strokeDash":[18,18]},
"encoding":{
"x":{"field":"lon","type":"quantitative","scale":{"domain":[-4.02,8.87],"range":[216,986],"nice":false,"zero":false},"axis":null},
"y":{"field":"lat","type":"quantitative","scale":{"domain":[52.143,58.993],"range":[867,245],"nice":false,"zero":false},"axis":null},
"detail":{"field":"g","type":"nominal"}}},
{"data":{"name":"meridians"},"mark":{"type":"line","order":null,"stroke":"#8c8c8c","strokeWidth":2,"strokeDash":[18,18],"strokeDashOffset":5},
"encoding":{
"x":{"field":"lon","type":"quantitative","scale":{"domain":[-4.02,8.87],"range":[216,986],"nice":false,"zero":false},"axis":null},
"y":{"field":"lat","type":"quantitative","scale":{"domain":[52.143,58.993],"range":[867,245],"nice":false,"zero":false},"axis":null},
"detail":{"field":"g","type":"nominal"}}},
{"data":{"name":"sites"},"mark":{"type":"point","filled":true,"color":"#ff0000","size":361,"opacity":1,"shape":"circle"},
"encoding":{
"x":{"field":"lon","type":"quantitative","scale":{"domain":[-4.02,8.87],"range":[216,986],"nice":false,"zero":false},"axis":{"orient":"top","offset":-245,"values":[-2,1,4,7],"labels":false,"tickSize":-7,"tickWidth":2,"domainWidth":2.5,"title":null}},
"y":{"field":"lat","type":"quantitative","scale":{"domain":[52.143,58.993],"range":[867,245],"nice":false,"zero":false},"axis":{"orient":"right","offset":-2,"values":[53,55,57],"labels":false,"tickSize":-7,"tickWidth":2,"domainWidth":2.5,"title":null}}
}}
],"resolve":{"axis":{"x":"independent","y":"independent"}}}
]}
